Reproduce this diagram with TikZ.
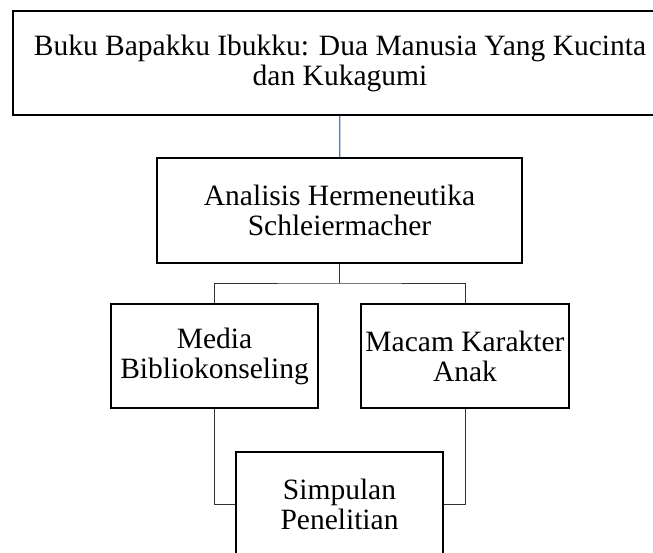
\documentclass[tikz,border=0pt]{standalone}
\usepackage{fontspec}
\setmainfont{Liberation Serif}
\definecolor{lineblue}{RGB}{74,126,187}
\begin{document}
\begin{tikzpicture}[x=1pt, y=1pt,
		box/.style={draw, line width=1.6pt, inner sep=0pt, align=center, minimum height=104pt, font=\fontsize{29.5}{30}\selectfont},
		link/.style={draw=black!80, line width=1pt}]
				\useasboundingbox (0,0) rectangle (653,-552);
				\node[box, minimum width=654pt] (buku) at (340,-63) {Buku Bapakku Ibukku: Dua Manusia Yang Kucinta\\dan Kukagumi};
				\node[box, minimum width=365pt, minimum height=105pt] (analisis) at (339.5,-210.5) {Analisis Hermeneutika\\Schleiermacher};
				\node[box, minimum width=207pt] (media) at (214.5,-356) {Media\\Bibliokonseling};
				\node[box, minimum width=208pt] (karakter) at (465,-356) {Macam Karakter\\Anak};
				\node[box, minimum width=207pt] (simpulan) at (339.5,-504) {Simpulan\\Penelitian};
				\draw[lineblue, line width=1.2pt] (buku) -- (analisis);
				\coordinate (cabang) at (339.5,-283);
				\draw[link] (analisis) -- (cabang);
				\draw[link] (media.north) |- (cabang) -| (karakter.north);
				\draw[link] (media.south) |- (simpulan.west);
				\draw[link] (karakter.south) |- (simpulan.east);
			\end{tikzpicture}
\end{document}
